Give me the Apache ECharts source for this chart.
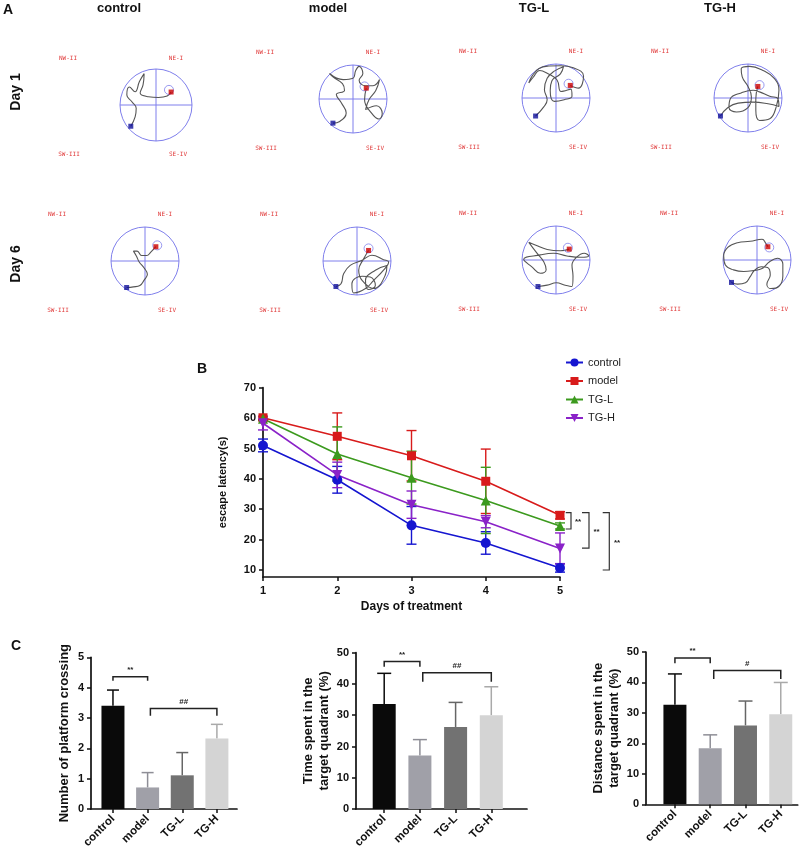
<!DOCTYPE html>
<html><head><meta charset="utf-8">
<script src="https://cdn.jsdelivr.net/npm/echarts@6/dist/echarts.min.js"></script>
<style>html,body{margin:0;padding:0;background:#fff}#c{width:807px;height:855px}</style>
</head><body><div id="c"></div>
<script>
// ---------------- DATA ----------------
const groups = ['control', 'model', 'TG-L', 'TG-H'];
const days = [1, 2, 3, 4, 5];
const latControl = [51.0, 39.7, 24.7, 18.9, 10.7];
const latControlErr = [2.1, 4.4, 6.2, 3.7, 1.4];
const latModel = [60.1, 54.0, 47.6, 39.2, 28.0];
const latModelErr = [0.5, 7.7, 8.3, 10.6, 1.2];
const latTGL = [59.8, 48.2, 40.4, 32.9, 24.5];
const latTGLErr = [0.6, 8.9, 8.7, 10.9, 1.0];
const latTGH = [58.3, 41.3, 31.5, 25.9, 17.1];
const latTGHErr = [2.2, 4.2, 4.5, 2.0, 5.1];
const yTicksB = [10, 20, 30, 40, 50, 60, 70];
// significance brackets at day 5: [top value, bottom value, label]
const sigB = [[28.9, 23.5, '**'], [28.9, 17.2, '**'], [28.9, 10.0, '**']];

const crossings = [3.40, 0.71, 1.11, 2.32];
const crossingsErr = [0.52, 0.49, 0.75, 0.47];
const timeQuad = [33.6, 17.1, 26.2, 30.0];
const timeQuadErr = [9.8, 5.1, 7.9, 9.1];
const distQuad = [32.7, 18.4, 25.9, 29.6];
const distQuadErr = [10.1, 4.4, 8.0, 10.4];
// brackets: [x from, x to, y line, y tick end, label]
const sigC1 = [[0, 1, 4.36, 4.23, '**'], [1.08, 3, 3.31, 3.07, '##']];
const sigC2 = [[0, 1, 47.2, 45.5, '**'], [1.08, 3, 43.6, 40.7, '##']];
const sigC3 = [[0, 1, 48.0, 46.3, '**'], [1.1, 3, 43.9, 41.1, '#']];

const quadrantNames = ['NW-II', 'NE-I', 'SW-III', 'SE-IV'];
const dayLabels = ['Day 1', 'Day 6'];

// swim paths (pool coordinates, -1..1)
const pathD1Control = [[-0.70,-0.59],[-0.58,-0.33],[-0.55,-0.09],[-0.67,0.09],[-0.81,0.28],[-0.74,0.50],[-0.58,0.37],[-0.46,0.65],[-0.33,0.87],[-0.36,0.56],[-0.44,0.33],[-0.21,0.23],[0.07,0.21],[0.31,0.25],[0.42,0.36]];
const pathD1Model = [[-0.59,-0.71],[-0.39,-0.66],[-0.20,-0.41],[-0.34,-0.12],[-0.49,0.13],[-0.25,0.25],[-0.31,0.45],[-0.59,0.65],[-0.69,0.75],[-0.29,0.57],[0,0.61],[0.08,0.84],[0.18,0.96],[0.29,0.75],[0.18,0.55],[0.37,0.39],[0.59,0.39],[0.78,0.57],[0.67,0.25],[0.47,-0.02],[0.37,-0.31],[0.69,-0.2],[0.86,-0.43],[0.76,-0.59],[0.54,-0.41],[0.34,-0.02],[0.39,0.32]];
const pathD1TGL = [[-0.60,-0.53],[-0.36,-0.26],[-0.26,-0.05],[-0.34,0.24],[-0.26,0.58],[-0.05,0.79],[0.22,0.92],[0.13,0.71],[-0.12,0.51],[-0.17,0.22],[-0.05,-0.1],[0.24,-0.05],[0.47,0.05],[0.44,0.26],[0.15,0.19],[0.03,0.53],[-0.26,0.73],[-0.48,0.81],[-0.67,0.61],[-0.8,0.44],[-0.7,0.65],[-0.5,0.87],[-0.21,0.94],[0.13,0.95],[0.51,0.89],[0.81,0.65],[0.66,0.29],[0.42,0.37]];
const pathD1TGH = [[-0.81,-0.53],[-0.59,-0.28],[-0.29,-0.15],[0.15,-0.12],[0.59,-0.17],[0.91,-0.25],[0.88,-0.02],[0.64,0.05],[0.34,0.18],[0.15,0.23],[-0.2,0.15],[-0.52,-0.02],[-0.56,-0.28],[-0.34,-0.41],[0,-0.28],[0.1,0.03],[0,0.34],[-0.17,0.62],[-0.2,0.86],[0.05,0.93],[0.44,0.81],[0.78,0.57],[0.91,0.23],[0.83,-0.26],[0.64,-0.61],[0.34,-0.66],[0.23,-0.36],[0.23,-0.02],[0.29,0.34]];
const pathD6Control = [[-0.54,-0.78],[-0.34,-0.76],[-0.15,-0.72],[-0.03,-0.57],[0.07,-0.39],[-0.03,-0.2],[-0.17,-0.03],[-0.25,0.14],[-0.34,0.29],[-0.23,0.29],[-0.1,0.16],[0.05,0.16],[0.17,0.26],[0.32,0.42]];
const pathD6Model = [[-0.62,-0.75],[-0.47,-0.67],[-0.39,-0.37],[-0.2,-0.13],[0.15,0.02],[0.44,0.17],[0.78,0.04],[0.93,-0.03],[0.78,-0.27],[0.49,-0.57],[0.25,-0.81],[-0.1,-0.94],[-0.15,-0.67],[0.15,-0.45],[0.39,-0.47],[0.54,-0.72],[0.34,-0.84],[0.25,-0.57],[0.54,-0.27],[0.88,-0.13],[0.83,-0.42],[0.49,-0.81],[0.15,-0.57],[0.05,-0.27],[0.2,0.07],[0.34,0.31]];
const pathD6TGL = [[-0.53,-0.78],[-0.26,-0.74],[0.01,-0.67],[0.27,-0.74],[0.47,-0.78],[0.5,-0.47],[0.47,-0.15],[0.6,0.08],[0.83,0.2],[0.96,0.12],[0.72,0.08],[0.32,0.12],[-0.07,0.2],[-0.46,0.15],[-0.95,0.02],[-0.71,-0.2],[-0.46,-0.39],[-0.29,-0.29],[-0.36,-0.05],[-0.56,0.2],[-0.8,0.52],[-0.61,0.44],[-0.26,0.31],[0.13,0.27],[0.39,0.32]];
const pathD6TGH = [[-0.75,-0.66],[-0.57,-0.71],[-0.34,-0.67],[-0.2,-0.49],[-0.08,-0.31],[0.12,-0.2],[0.31,-0.22],[0.39,-0.44],[0.29,-0.71],[0.41,-0.84],[0.64,-0.78],[0.76,-0.47],[0.76,-0.12],[0.61,0.05],[0.37,-0.05],[0.15,-0.25],[-0.1,-0.31],[-0.39,-0.34],[-0.69,-0.29],[-0.93,-0.15],[-0.98,0.12],[-0.86,0.37],[-0.57,0.51],[-0.2,0.55],[0.15,0.61],[0.26,0.49],[0.32,0.39]];
const startsDay1 = [[-0.70,-0.59],[-0.59,-0.71],[-0.60,-0.53],[-0.81,-0.53]];
const startsDay6 = [[-0.54,-0.78],[-0.62,-0.75],[-0.53,-0.78],[-0.75,-0.66]];
const platformsDay1 = [[0.42,0.36],[0.39,0.32],[0.42,0.37],[0.29,0.34]];
const platformsDay6 = [[0.32,0.42],[0.34,0.31],[0.39,0.32],[0.32,0.39]];
const ringsDay1 = [[0.36,0.42],[0.34,0.37],[0.37,0.42],[0.34,0.38]];
const ringsDay6 = [[0.36,0.46],[0.34,0.37],[0.35,0.36],[0.36,0.37]];

// ---------------- LAYOUT / STYLE ----------------
const FONT = 'Arial, "Liberation Sans", Helvetica, sans-serif';
const poolLayout = [[156,105,36],[353,99,34],[556,98,34],[748,98,34],[145,261,34],[357,261,34],[556,260,34],[757,260,34]];
const quadOffsets = [[-88,-47],[20,-47],[-87,49],[22,49]];
const colTitleX = [119, 328, 534, 720];
const lineColors = ['#1515d0', '#d81b1b', '#3c9a1e', '#8a22c8'];
const lineSymbols = ['circle', 'rect', 'triangle', 'triangle'];
const lineRot = [0, 0, 0, 180];
const barColors = ['#0a0a0a', '#a0a0a8', '#727272', '#d4d4d4'];
const barErrColors = ['#0a0a0a', '#8e8e96', '#666666', '#a9a9a9'];
const poolColor = '#7f7fec';

const paths = [pathD1Control, pathD1Model, pathD1TGL, pathD1TGH, pathD6Control, pathD6Model, pathD6TGL, pathD6TGH];
const starts = startsDay1.concat(startsDay6);
const platforms = platformsDay1.concat(platformsDay6);
const rings = ringsDay1.concat(ringsDay6);

const grid = [], xAxis = [], yAxis = [], series = [], graphic = [];

// ---- panel A pools ----
poolLayout.forEach((p, i) => {
  const [cx, cy, r] = p;
  grid.push({left: cx - r, top: cy - r, width: 2 * r, height: 2 * r});
  xAxis.push({gridIndex: i, type: 'value', min: -1, max: 1, show: false});
  yAxis.push({gridIndex: i, type: 'value', min: -1, max: 1, show: false});
  series.push({
    type: 'custom', name: 'pool' + i, xAxisIndex: i, yAxisIndex: i, data: [[0, 0]], silent: true, z: 1,
    renderItem: function (params, api) {
      const c = api.coord([0, 0]); const e = api.coord([1, 0]); const rr = e[0] - c[0];
      const st = {stroke: poolColor, lineWidth: 1, fill: null};
      return {type: 'group', children: [
        {type: 'circle', shape: {cx: c[0], cy: c[1], r: rr}, style: st},
        {type: 'line', shape: {x1: c[0] - rr, y1: c[1], x2: c[0] + rr, y2: c[1]}, style: st},
        {type: 'line', shape: {x1: c[0], y1: c[1] - rr, x2: c[0], y2: c[1] + rr}, style: st}
      ]};
    }
  });
  series.push({type: 'line', name: 'path' + i, xAxisIndex: i, yAxisIndex: i, data: paths[i], smooth: 0.45,
    symbol: 'none', lineStyle: {color: '#555', width: 1.1}, silent: true, z: 2});
  series.push({type: 'scatter', name: 'ring' + i, xAxisIndex: i, yAxisIndex: i, data: [rings[i]], symbol: 'circle',
    symbolSize: 9, itemStyle: {color: 'rgba(0,0,0,0)', borderColor: poolColor, borderWidth: 1}, silent: true, z: 3});
  series.push({type: 'scatter', name: 'plat' + i, xAxisIndex: i, yAxisIndex: i, data: [platforms[i]], symbol: 'rect',
    symbolSize: 5, itemStyle: {color: '#cc0000'}, silent: true, z: 4});
  series.push({type: 'scatter', name: 'start' + i, xAxisIndex: i, yAxisIndex: i, data: [starts[i]], symbol: 'rect',
    symbolSize: 5, itemStyle: {color: '#10109a'}, silent: true, z: 4});
  quadrantNames.forEach((q, k) => {
    graphic.push({type: 'text', x: cx + quadOffsets[k][0], y: cy + quadOffsets[k][1],
      style: {text: q, fill: '#e03a3a', font: '6px "DejaVu Sans Mono", monospace', align: 'center', verticalAlign: 'middle'}});
  });
});
groups.forEach((g, i) => {
  graphic.push({type: 'text', x: colTitleX[i], y: 8, style: {text: g, fill: '#111', font: 'bold 13px ' + FONT, align: 'center', verticalAlign: 'middle'}});
});
graphic.push({type: 'text', x: 16.5, y: 92, rotation: Math.PI / 2, style: {text: dayLabels[0], fill: '#111', font: 'bold 14px ' + FONT, align: 'center', verticalAlign: 'middle'}});
graphic.push({type: 'text', x: 16.5, y: 264, rotation: Math.PI / 2, style: {text: dayLabels[1], fill: '#111', font: 'bold 14px ' + FONT, align: 'center', verticalAlign: 'middle'}});
graphic.push({type: 'text', x: 8, y: 10.5, style: {text: 'A', fill: '#111', font: 'bold 14px ' + FONT, align: 'center', verticalAlign: 'middle'}});
graphic.push({type: 'text', x: 202, y: 369, style: {text: 'B', fill: '#111', font: 'bold 14px ' + FONT, align: 'center', verticalAlign: 'middle'}});
graphic.push({type: 'text', x: 16, y: 646, style: {text: 'C', fill: '#111', font: 'bold 14px ' + FONT, align: 'center', verticalAlign: 'middle'}});

// ---- panel B line chart ----
const axisLineStyle = {onZero: false, lineStyle: {color: '#111', width: 1.7}};
const tickStyle = {show: true, length: 4, lineStyle: {color: '#111', width: 1.5}};
const gB = grid.length;
grid.push({left: 263, top: 387.7, width: 297, height: 189.3});
xAxis.push({gridIndex: gB, type: 'value', min: 1, max: 5, interval: 1, name: 'Days of treatment', nameLocation: 'middle', nameGap: 24,
  nameTextStyle: {fontFamily: FONT, fontWeight: 'bold', fontSize: 12, color: '#111'},
  axisLine: axisLineStyle, axisTick: tickStyle, splitLine: {show: false},
  axisLabel: {fontFamily: FONT, fontWeight: 'bold', fontSize: 11, color: '#111', margin: 8}});
yAxis.push({gridIndex: gB, type: 'value', min: 7.7, max: 70, name: 'escape latency(s)', nameLocation: 'middle', nameGap: 35,
  nameTextStyle: {fontFamily: FONT, fontWeight: 'bold', fontSize: 11, color: '#111'},
  axisLine: {show: true, onZero: false, lineStyle: {color: '#111', width: 1.7}},
  axisTick: Object.assign({customValues: yTicksB}, tickStyle), splitLine: {show: false},
  axisLabel: {customValues: yTicksB, fontFamily: FONT, fontWeight: 'bold', fontSize: 11, color: '#111', margin: 7}});
const latVals = [latControl, latModel, latTGL, latTGH];
const latErrs = [latControlErr, latModelErr, latTGLErr, latTGHErr];
groups.forEach((g, i) => {
  const col = lineColors[i];
  series.push({type: 'custom', name: g + ' err', xAxisIndex: gB, yAxisIndex: gB, z: 5,
    data: days.map((d, k) => [d, latVals[i][k] - latErrs[i][k], latVals[i][k] + latErrs[i][k]]),
    encode: {x: 0, y: [1, 2]},
    renderItem: function (params, api) {
      const x = api.value(0);
      const a = api.coord([x, api.value(2)]), b = api.coord([x, api.value(1)]);
      const w = 5, st = {stroke: col, lineWidth: 1.4};
      return {type: 'group', children: [
        {type: 'line', shape: {x1: a[0], y1: a[1], x2: b[0], y2: b[1]}, style: st},
        {type: 'line', shape: {x1: a[0] - w, y1: a[1], x2: a[0] + w, y2: a[1]}, style: st},
        {type: 'line', shape: {x1: b[0] - w, y1: b[1], x2: b[0] + w, y2: b[1]}, style: st}
      ]};
    }
  });
  series.push({type: 'line', name: g, xAxisIndex: gB, yAxisIndex: gB, z: 6,
    data: days.map((d, k) => [d, latVals[i][k]]),
    symbol: lineSymbols[i], symbolRotate: lineRot[i], symbolSize: i === 1 ? 9 : 10,
    lineStyle: {color: col, width: 1.6}, itemStyle: {color: col}});
});
const bracketOffB = [[5.7, 11, 18], [22, 29, 36.5], [42.7, 49.3, 57]];
series.push({type: 'custom', name: 'sigB', xAxisIndex: gB, yAxisIndex: gB, z: 7, silent: true,
  data: sigB.map(s => [5, s[0], s[1]]), encode: {x: 0, y: [1, 2]},
  renderItem: function (params, api) {
    const o = bracketOffB[params.dataIndex];
    const t = api.coord([5, api.value(1)]), b = api.coord([5, api.value(2)]);
    const x0 = t[0] + o[0], x1 = t[0] + o[1];
    return {type: 'group', children: [
      {type: 'polyline', shape: {points: [[x0, t[1]], [x1, t[1]], [x1, b[1]], [x0, b[1]]]}, style: {stroke: '#333', lineWidth: 1.2, fill: null}},
      {type: 'text', style: {text: sigB[params.dataIndex][2], x: t[0] + o[2], y: (t[1] + b[1]) / 2 + 1, align: 'center', verticalAlign: 'middle', font: 'bold 8px ' + FONT, fill: '#222'}}
    ]};
  }
});

// ---- panel C bar charts ----
const barCharts = [
  {vals: crossings, errs: crossingsErr, sig: sigC1, left: 91, top: 657.3, width: 146, height: 151.7, xmin: -0.634, xmax: 3.58, ymax: 5, interval: 1,
    name: 'Number of platform crossing', gap: 19, capW: 6},
  {vals: timeQuad, errs: timeQuadErr, sig: sigC2, left: 356, top: 652.7, width: 171, height: 156.3, xmin: -0.79, xmax: 4.0, ymax: 50, interval: 10,
    name: 'Time spent in the\ntarget quadrant (%)', gap: 21, capW: 7},
  {vals: distQuad, errs: distQuadErr, sig: sigC3, left: 646, top: 652, width: 151.7, height: 152.3, xmin: -0.82, xmax: 3.48, ymax: 50, interval: 10,
    name: 'Distance spent in the\ntarget quadrant (%)', gap: 19, capW: 7}
];
barCharts.forEach((bc) => {
  const gi = grid.length;
  grid.push({left: bc.left, top: bc.top, width: bc.width, height: bc.height});
  xAxis.push({gridIndex: gi, type: 'value', min: bc.xmin, max: bc.xmax, splitLine: {show: false},
    axisLine: axisLineStyle, axisTick: Object.assign({customValues: [0, 1, 2, 3]}, tickStyle),
    axisLabel: {customValues: [0, 1, 2, 3], formatter: v => groups[Math.round(v)], rotate: 45, margin: 8,
      fontFamily: FONT, fontWeight: 'bold', fontSize: 11.5, color: '#111'}});
  yAxis.push({gridIndex: gi, type: 'value', min: 0, max: bc.ymax, interval: bc.interval, splitLine: {show: false},
    name: bc.name, nameLocation: 'middle', nameGap: bc.gap,
    nameTextStyle: {fontFamily: FONT, fontWeight: 'bold', fontSize: 13, color: '#111', lineHeight: 16},
    axisLine: {show: true, onZero: false, lineStyle: {color: '#111', width: 1.7}}, axisTick: tickStyle,
    axisLabel: {fontFamily: FONT, fontWeight: 'bold', fontSize: 11, color: '#111', margin: 7}});
  series.push({type: 'bar', name: 'bars' + gi, xAxisIndex: gi, yAxisIndex: gi, barWidth: 23, z: 3,
    data: bc.vals.map((v, k) => ({value: [k, v], itemStyle: {color: barColors[k]}}))});
  series.push({type: 'custom', name: 'berr' + gi, xAxisIndex: gi, yAxisIndex: gi, z: 2,
    data: bc.vals.map((v, k) => [k, v, v + bc.errs[k]]), encode: {x: 0, y: [1, 2]},
    renderItem: function (params, api) {
      const k = api.value(0);
      const a = api.coord([k, api.value(2)]), b = api.coord([k, api.value(1)]);
      const st = {stroke: barErrColors[params.dataIndex], lineWidth: 1.5};
      return {type: 'group', children: [
        {type: 'line', shape: {x1: a[0], y1: a[1], x2: b[0], y2: b[1]}, style: st},
        {type: 'line', shape: {x1: a[0] - bc.capW, y1: a[1], x2: a[0] + bc.capW, y2: a[1]}, style: st}
      ]};
    }
  });
  series.push({type: 'custom', name: 'bsig' + gi, xAxisIndex: gi, yAxisIndex: gi, z: 4, silent: true,
    data: bc.sig.map(s => [s[0], s[1], s[2], s[3]]), encode: {x: [0, 1], y: [2, 3]},
    renderItem: function (params, api) {
      const p0 = api.coord([api.value(0), api.value(2)]), p1 = api.coord([api.value(1), api.value(2)]);
      const t0 = api.coord([api.value(0), api.value(3)]), t1 = api.coord([api.value(1), api.value(3)]);
      return {type: 'group', children: [
        {type: 'polyline', shape: {points: [t0, p0, p1, t1]}, style: {stroke: '#222', lineWidth: 1.5, fill: null}},
        {type: 'text', style: {text: bc.sig[params.dataIndex][4], x: (p0[0] + p1[0]) / 2, y: p0[1] - 7, align: 'center', verticalAlign: 'middle', font: 'bold 8px ' + FONT, fill: '#222'}}
      ]};
    }
  });
});

const chart = echarts.init(document.getElementById('c'), null, {renderer: 'canvas'});
chart.setOption({
  animation: false,
  backgroundColor: '#ffffff',
  textStyle: {fontFamily: FONT},
  legend: {data: groups, orient: 'vertical', left: 565, top: 357, padding: 0, itemWidth: 17, itemHeight: 10, itemGap: 7.5,
    textStyle: {fontFamily: FONT, fontSize: 11, color: '#222'}},
  grid: grid, xAxis: xAxis, yAxis: yAxis, series: series, graphic: graphic
});
</script>
</body></html>
